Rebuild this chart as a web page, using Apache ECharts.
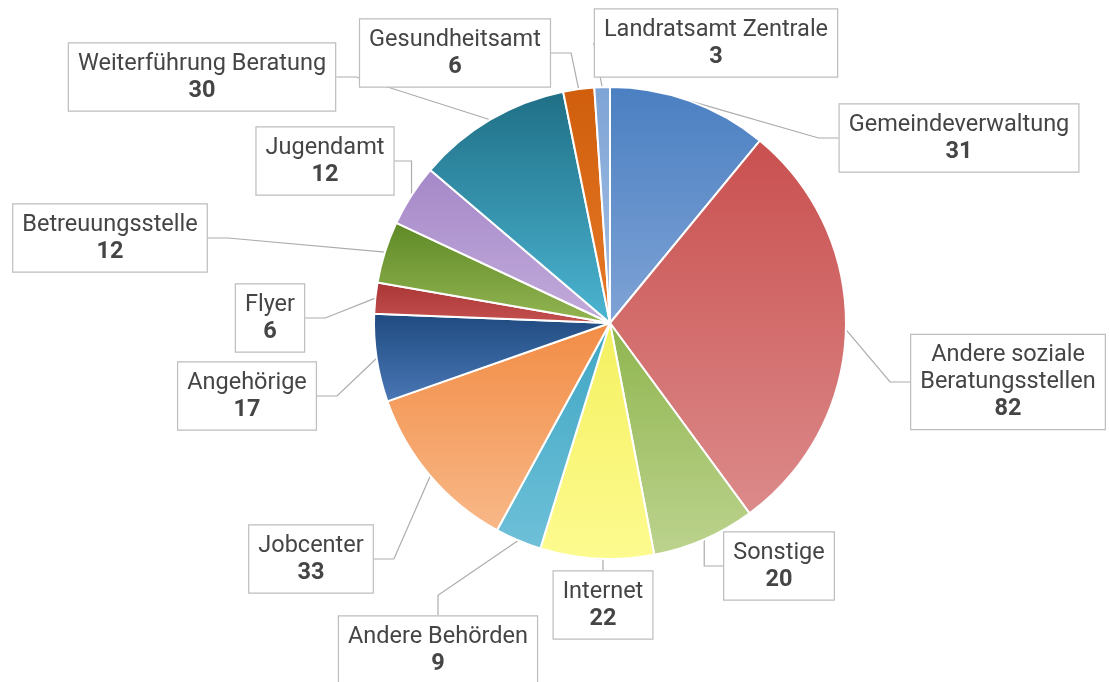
<!DOCTYPE html>
<html lang="de">
<head>
    <meta charset="UTF-8"/>
    <title>Zugangswege</title>
    <script src="https://cdn.jsdelivr.net/npm/echarts@6/dist/echarts.min.js"></script>
    <style>
        html, body { margin: 0; padding: 0; background: #fff; }
    </style>
</head>
<body>

<div id="main" style="width: 1109px;height:682px;"></div>

<script type="text/javascript">
    // Daten
    var categories = ['Gemeindeverwaltung', 'Andere soziale\nBeratungsstellen', 'Sonstige', 'Internet',
        'Andere Behörden', 'Jobcenter', 'Angehörige', 'Flyer', 'Betreuungsstelle', 'Jugendamt',
        'Weiterführung Beratung', 'Gesundheitsamt', 'Landratsamt Zentrale'];
    var values = [31, 82, 20, 22, 9, 33, 17, 6, 12, 12, 30, 6, 3];

    // Farben (oben dunkler, unten heller)
    var colorTop = ['#4a7fc1', '#c9504f', '#8fb54e', '#f4f060', '#3fa6c4', '#f28c45', '#1f4a80',
        '#a93535', '#5e8a26', '#a588c8', '#1f6f86', '#d05e0c', '#7ea4d6'];
    var colorBottom = ['#7fa3d6', '#dc8a8a', '#bcd38e', '#fdfb8f', '#6ec0d8', '#f8b888', '#4a78b5',
        '#c45050', '#93b552', '#c2abdb', '#4cb5d2', '#e67a28', '#a5c0e4'];

    // Position der Beschriftungsboxen (Mittelpunkt)
    var labelPos = [[959, 138], [1008, 382], [779, 566], [603, 605], [438, 650], [311, 559], [247, 396],
        [270, 318], [110, 238], [325, 161], [202, 77], [455, 53], [716, 43]];

    var myChart = echarts.init(document.getElementById('main'));

    var data = [];
    for (var i = 0; i < categories.length; i++) {
        data.push({
            name: categories[i],
            value: values[i],
            itemStyle: {
                color: new echarts.graphic.LinearGradient(0, 0, 0, 1, [
                    {offset: 0, color: colorTop[i]},
                    {offset: 1, color: colorBottom[i]}
                ])
            }
        });
    }

    option = {
        animation: false,
        backgroundColor: '#fff',
        series: [
            {
                type: 'pie',
                center: [610, 323],
                radius: 236,
                startAngle: 90,
                clockwise: true,
                avoidLabelOverlap: false,
                data: data,
                itemStyle: {
                    borderColor: '#fff',
                    borderWidth: 2
                },
                label: {
                    show: true,
                    position: 'outside',
                    formatter: function (p) {
                        return '{n|' + p.name + '}\n{v|' + p.value + '}';
                    },
                    backgroundColor: '#fff',
                    borderColor: '#bdbdbd',
                    borderWidth: 1.2,
                    padding: [7, 9, 6, 9],
                    align: 'center',
                    rich: {
                        n: {
                            fontFamily: 'Roboto',
                            fontSize: 23.5,
                            lineHeight: 27,
                            color: '#454545',
                            align: 'center'
                        },
                        v: {
                            fontFamily: 'Roboto',
                            fontSize: 23.5,
                            fontWeight: 'bold',
                            lineHeight: 27,
                            color: '#454545',
                            align: 'center'
                        }
                    }
                },
                labelLine: {
                    show: true,
                    length: 20,
                    length2: 20,
                    lineStyle: {
                        color: '#acacac',
                        width: 1.2
                    }
                },
                labelLayout: function (params) {
                    var pos = labelPos[params.dataIndex];
                    return {
                        x: pos[0],
                        y: pos[1],
                        align: 'center',
                        verticalAlign: 'middle'
                    };
                }
            }
        ]
    };

    myChart.setOption(option);
</script>
</body>
</html>
